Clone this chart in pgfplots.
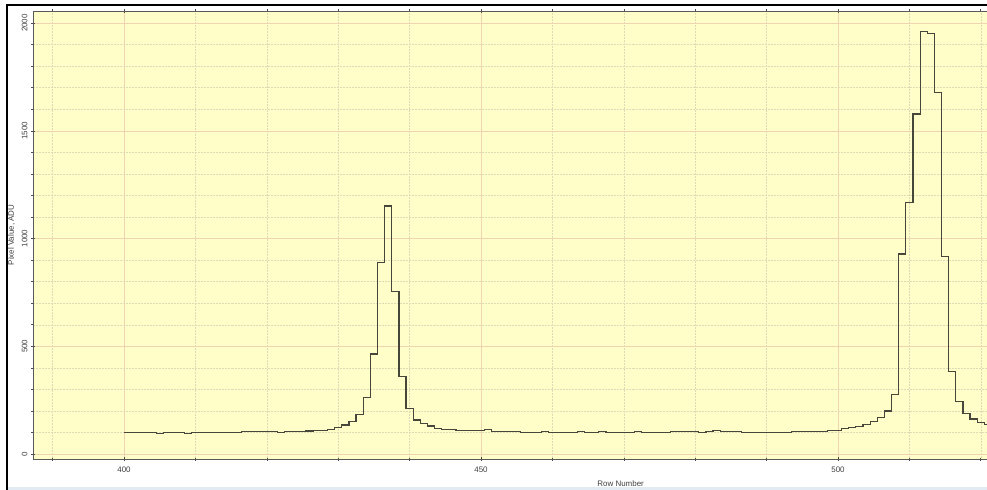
\documentclass[border=0pt]{standalone}
\usepackage{pgfplots}
\pgfplotsset{compat=1.18}
\usepackage{fontspec}
\setmainfont{Liberation Sans}
\definecolor{bg}{RGB}{255,253,200}
\definecolor{majgrid}{RGB}{240,212,178}
\definecolor{mingrid}{RGB}{222,220,182}
\definecolor{curve}{RGB}{70,70,58}
\definecolor{strip}{RGB}{226,234,244}
\begin{document}
\begin{tikzpicture}
\begin{axis}[
  scale only axis, width=954bp, height=448bp,
  xmin=387.25, xmax=520.87, ymin=-23, ymax=2056,
  axis x line=box, axis y line=left,
  axis line style={-, draw=black!65, line width=0.8bp},
  xtick={400,450,500},
  minor xtick={390,410,420,430,440,460,470,480,490,510,520},
  ytick={0,500,1000,1500,2000},
  minor ytick={100,200,300,400,600,700,800,900,1100,1200,1300,1400,1600,1700,1800,1900},
  xtick pos=both, ytick pos=left,
  grid=both,
  major grid style={majgrid, line width=0.6bp},
  minor grid style={mingrid, line width=0.5bp, densely dotted},
  tick align=center, major tick length=4bp, minor tick length=3bp,
  tick style={black!70, line width=0.6bp},
  axis background/.style={fill=bg},
  /pgf/number format/assume math mode=true,
  /pgf/number format/set thousands separator={},
  ticklabel style={font=\fontsize{8}{9}\selectfont, text=black!75},
  xticklabel style={yshift=-2.5bp},
  yticklabel style={rotate=90, anchor=south},
  xlabel={Row Number}, ylabel={Pixel Value, ADU},
  label style={font=\fontsize{8}{9}\selectfont, text=black!75},
  xlabel style={at={(ticklabel cs:0.616)}, anchor=near ticklabel, yshift=-1bp},
]
\addplot[const plot mark mid, curve, line width=1.2bp, mark=none] coordinates {
(400,100)(401,100)(402,100)(403,100)(404,100)(405,96)(406,100)(407,100)(408,100)(409,96)
(410,100)(411,100)(412,100)(413,100)(414,100)(415,100)(416,100)(417,103)(418,103)(419,103)
(420,103)(421,103)(422,100)(423,103)(424,103)(425,105)(426,107)(427,108)(428,111)(429,115)
(430,124)(431,135)(432,150)(433,185)(434,263)(435,464)(436,888)(437,1151)(438,756)(439,359)
(440,212)(441,158)(442,140)(443,130)(444,119)(445,115)(446,113)(447,111)(448,111)(449,111)
(450,111)(451,113)(452,105)(453,105)(454,105)(455,105)(456,100)(457,100)(458,100)(459,103)
(460,100)(461,100)(462,100)(463,100)(464,103)(465,100)(466,100)(467,103)(468,100)(469,100)
(470,100)(471,100)(472,103)(473,100)(474,100)(475,100)(476,100)(477,103)(478,103)(479,103)
(480,103)(481,101)(482,103)(483,108)(484,103)(485,103)(486,103)(487,101)(488,101)(489,101)
(490,101)(491,101)(492,101)(493,100)(494,104)(495,104)(496,104)(497,104)(498,104)(499,111)
(500,111)(501,117)(502,122)(503,127)(504,137)(505,152)(506,170)(507,200)(508,278)(509,928)
(510,1166)(511,1578)(512,1960)(513,1950)(514,1677)(515,916)(516,382)(517,245)(518,190)(519,163)
(520,147)(521,138)(522,138)
};
\end{axis}
\pgfresetboundingbox
\path[use as bounding box] ([xshift=-33bp,yshift=-31bp]current axis.south west) rectangle ([yshift=11bp]current axis.north east);
\fill[strip] ([xshift=-25bp,yshift=-31bp]current axis.south west) rectangle ([yshift=-28bp]current axis.south east);
\draw[line width=2bp, black] ([xshift=-26bp,yshift=-31bp]current axis.south west) -- ([xshift=-26bp,yshift=6bp]current axis.north west) -- ([yshift=6bp]current axis.north east);
\end{tikzpicture}
\end{document}
